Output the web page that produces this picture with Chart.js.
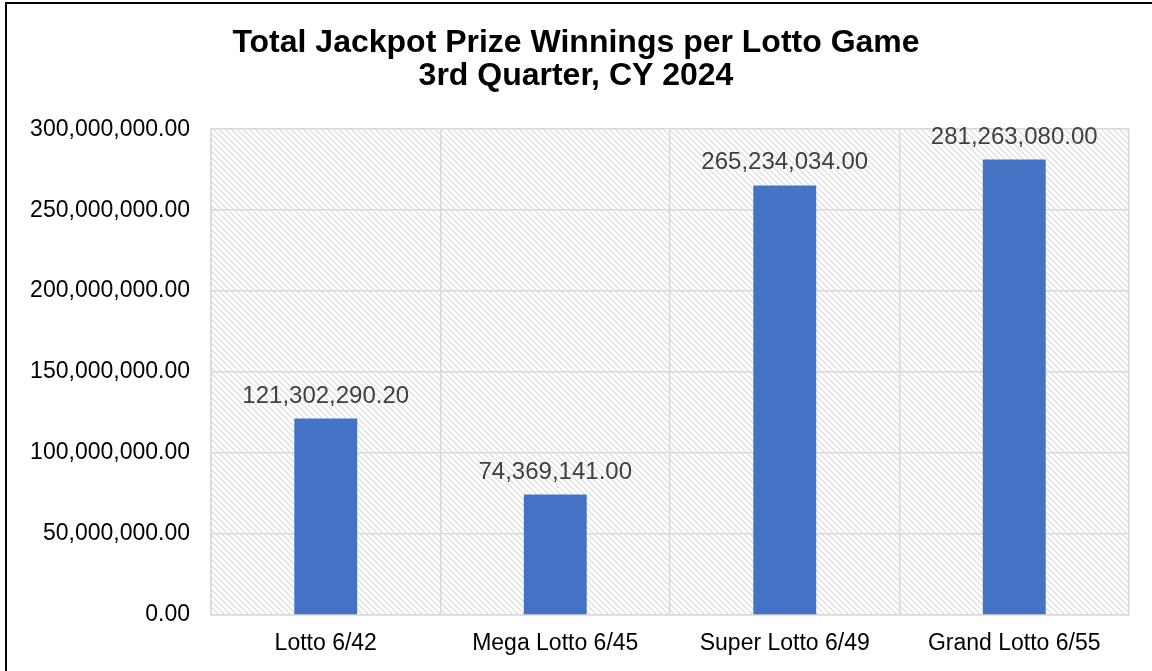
<!DOCTYPE html>
<html>
<head>
<meta charset="utf-8">
<script src="https://cdn.jsdelivr.net/npm/chart.js@4.4.1/dist/chart.umd.min.js"></script>
<style>
    html, body { margin: 0; padding: 0; background: #fff; }
    #wrap { width: 1152px; height: 671px; }
</style>
</head>
<body>
<div id="wrap"><canvas id="jackpot-chart" width="1152" height="671"></canvas></div>
<script>
const games = ['Lotto 6/42', 'Mega Lotto 6/45', 'Super Lotto 6/49', 'Grand Lotto 6/55'];
const jackpotWinnings = [121302290.20, 74369141.00, 265234034.00, 281263080.00];
const titleLines = ['Total Jackpot Prize Winnings per Lotto Game', '3rd Quarter, CY 2024'];

const FONT = '"Liberation Sans", Arial, sans-serif';

function money(value) {
    return Number(value).toLocaleString('en-US', { minimumFractionDigits: 2, maximumFractionDigits: 2 });
}

// Patrón de rayas diagonales del área de trazado
function makeHatch(ctx) {
    const tile = document.createElement('canvas');
    tile.width = 6;
    tile.height = 6;
    const t = tile.getContext('2d');
    t.fillStyle = '#fff';
    t.fillRect(0, 0, 6, 6);
    t.strokeStyle = '#dadada';
    t.lineWidth = 1.2;
    t.beginPath();
    t.moveTo(-1, -1); t.lineTo(7, 7);
    t.moveTo(-4, 2); t.lineTo(2, 8);
    t.moveTo(4, -2); t.lineTo(8, 2);
    t.stroke();
    return ctx.createPattern(tile, 'repeat');
}

const backgroundPlugin = {
    id: 'background',
    beforeDraw(chart) {
        const { ctx, chartArea } = chart;
        ctx.save();
        ctx.fillStyle = '#fff';
        ctx.fillRect(0, 0, chart.width, chart.height);
        ctx.fillStyle = makeHatch(ctx);
        ctx.fillRect(chartArea.left, chartArea.top, chartArea.right - chartArea.left, chartArea.bottom - chartArea.top);
        ctx.restore();
    },
    afterDraw(chart) {
        const ctx = chart.ctx;
        ctx.save();
        ctx.fillStyle = '#000';
        ctx.fillRect(5, 2, chart.width - 5, 2);
        ctx.fillRect(5, 2, 2, chart.height - 2);
        ctx.restore();
    }
};

const valueLabels = {
    id: 'valueLabels',
    afterDatasetsDraw(chart) {
        const ctx = chart.ctx;
        const meta = chart.getDatasetMeta(0);
        ctx.save();
        ctx.font = '24px ' + FONT;
        ctx.fillStyle = '#404040';
        ctx.textAlign = 'center';
        ctx.textBaseline = 'alphabetic';
        meta.data.forEach((bar, i) => {
            ctx.fillText(money(chart.data.datasets[0].data[i]), bar.x, bar.y - 16);
        });
        ctx.restore();
    }
};

new Chart(document.getElementById('jackpot-chart').getContext('2d'), {
    type: 'bar',
    data: {
        labels: games,
        datasets: [{
            label: 'Jackpot',
            data: jackpotWinnings,
            backgroundColor: '#4472C4',
            borderWidth: 0,
            categoryPercentage: 1,
            barPercentage: 0.274
        }]
    },
    options: {
        responsive: false,
        animation: false,
        layout: { padding: 0 },
        scales: {
            x: {
                grid: { color: '#d9d9d9', lineWidth: 1.5, drawTicks: false, offset: true },
                border: { color: '#d9d9d9', width: 1.5 },
                ticks: { color: '#000', font: { family: FONT, size: 23 }, padding: 15 },
                afterFit(scale) { scale.height = 56; }
            },
            y: {
                min: 0,
                max: 300000000,
                grid: { color: '#d9d9d9', lineWidth: 1.5, drawTicks: false },
                border: { color: '#d9d9d9', width: 1.5 },
                ticks: {
                    stepSize: 50000000,
                    color: '#000',
                    font: { family: FONT, size: 23 },
                    padding: 21,
                    callback: value => money(value)
                },
                afterFit(scale) { scale.width = 211; }
            },
            // eje vacío a la derecha, solo para dejar el margen y centrar el título
            spacer: {
                position: 'right',
                display: true,
                grid: { display: false, drawTicks: false },
                border: { display: false },
                ticks: { display: false },
                afterFit(scale) { scale.width = 23; }
            }
        },
        plugins: {
            legend: { display: false },
            tooltip: { enabled: false },
            title: {
                display: true,
                text: titleLines,
                color: '#000',
                font: { family: FONT, size: 32, weight: 'bold', lineHeight: 1.05 },
                padding: { top: 26, bottom: 36 }
            }
        }
    },
    plugins: [backgroundPlugin, valueLabels]
});
</script>
</body>
</html>
